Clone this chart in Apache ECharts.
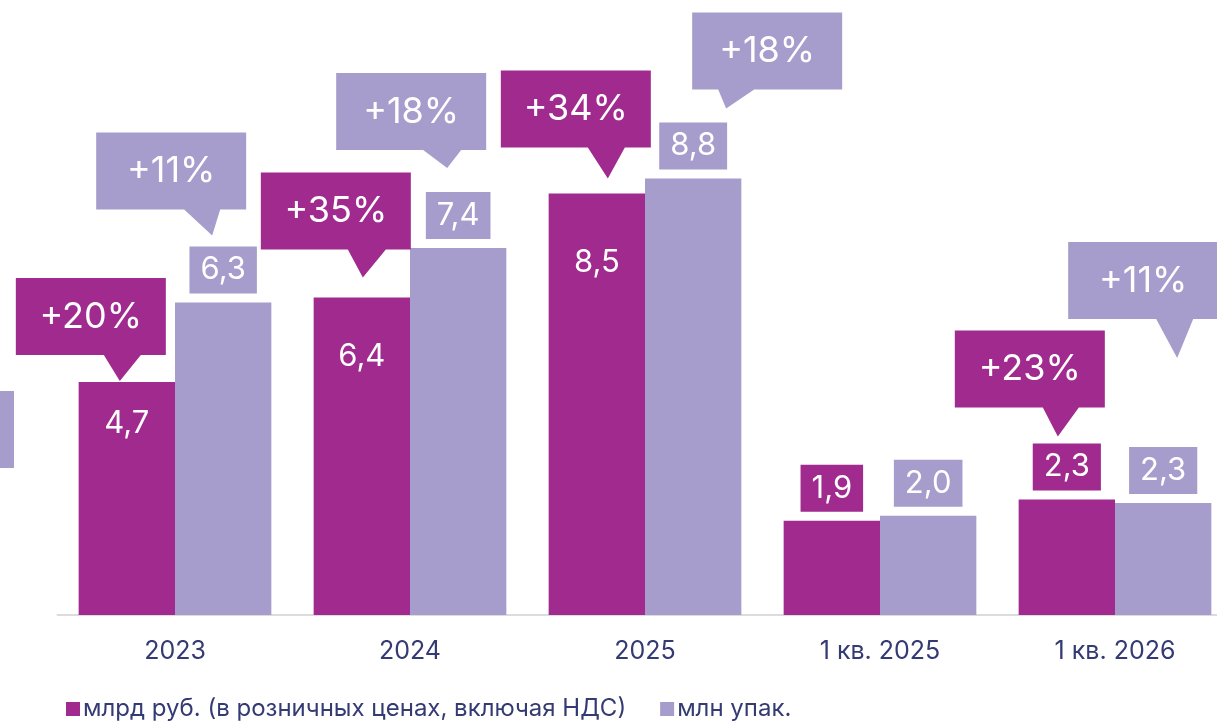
<!DOCTYPE html>
<html>
<head>
<meta charset="utf-8">
<script src="https://cdn.jsdelivr.net/npm/echarts@6/dist/echarts.min.js"></script>
<style>
  html, body { margin: 0; padding: 0; overflow: hidden; background: #fff; }
  #chart { width: 1240px; height: 721px; }
</style>
</head>
<body>
<div id="chart"></div>
<script>
// data
const categories = ["2023", "2024", "2025", "1 кв. 2025", "1 кв. 2026"];
const revenue = [4.7, 6.4, 8.5, 1.9, 2.33];   // млрд руб.
const packs = [6.3, 7.4, 8.8, 2.0, 2.26];     // млн упак.
const revenueGrowth = ["+20%", "+35%", "+34%", null, "+23%"];
const packsGrowth = ["+11%", "+18%", "+18%", null, "+11%"];

const MAGENTA = "#a02a8e";
const LAVENDER = "#a69dcc";
const NAVY = "#343a72";
const FONT = "Inter, 'Noto Sans', sans-serif";
const GAP = 0.18;

// how far the in-bar labels sit below the bar top
const insideDist = [26, 44, 54];

// callout placement relative to bar top-centre:
// [boxLeft, boxTop, pointerBaseL, pointerBaseR, tipX, tipY]
const revenueCallout = [
  [-111, -104, -23, 14, -7, -1],
  [-101, -125, -14, 24, 1, -20],
  [-96, -123, -9, 28, 11, -15],
  null,
  [-112, -169, -24, 12, -9, -63],
];
const packsCallout = [
  [-127, -170, -39, -3, -11, -67],
  [-122, -175, -35, 3, -11, -80],
  [-1, -166, 25, 61, 33, -70],
  null,
  [-95, -261, -7, 30, 14, -145],
];

const fmt = (v) => v.toFixed(1).replace(".", ",");

const insideLabel = (d) => ({
  show: true,
  position: "insideTop",
  distance: d,
  color: "#fff",
  fontSize: 31,
  fontFamily: FONT,
  formatter: (p) => fmt(p.value),
});
const boxLabel = (bg) => ({
  show: true,
  position: "top",
  distance: 9,
  color: "#fff",
  fontSize: 31,
  lineHeight: 33,
  fontFamily: FONT,
  backgroundColor: bg,
  padding: [7, 11],
  formatter: (p) => fmt(p.value),
});

function calloutSeries(values, texts, layout, color, side) {
  const data = [];
  values.forEach((v, i) => {
    if (texts[i]) data.push([i, v, i]);
  });
  return {
    type: "custom",
    z: 10,
    clip: false,
    silent: true,
    encode: { x: 0, y: 1 },
    data: data,
    renderItem: function (params, api) {
      const idx = api.value(2);
      const lay = layout[idx];
      const pt = api.coord([api.value(0), api.value(1)]);
      const band = api.size([1, 0])[0];
      const barW = (band * (1 - GAP)) / 2;
      const cx = pt[0] + (side * barW) / 2;
      const cy = pt[1];
      const L = cx + lay[0], T = cy + lay[1];
      const R = L + 150, B = T + 77;
      return {
        type: "group",
        children: [
          {
            type: "polygon",
            shape: {
              points: [
                [L, T], [R, T], [R, B],
                [cx + lay[3], B],
                [cx + lay[4], cy + lay[5]],
                [cx + lay[2], B],
                [L, B],
              ],
            },
            style: { fill: color },
          },
          {
            type: "text",
            x: L + 75,
            y: T + 39,
            style: {
              text: texts[idx],
              fill: "#fff",
              fontSize: 36,
              fontFamily: FONT,
              align: "center",
              verticalAlign: "middle",
            },
          },
        ],
      };
    },
  };
}

const chart = echarts.init(document.getElementById("chart"), null, { renderer: "canvas" });

const option = {
  animation: false,
  backgroundColor: "#fff",
  grid: { left: 57.5, right: 7.5, top: 19.8, bottom: 106 },
  legend: {
    left: 61,
    top: 692,
    icon: "rect",
    itemWidth: 14,
    itemHeight: 14,
    itemGap: 34,
    textStyle: { color: NAVY, fontSize: 24, fontFamily: FONT, padding: [0, 0, 0, -2] },
    data: ["млрд руб. (в розничных ценах, включая НДС)", "млн упак."],
  },
  xAxis: {
    type: "category",
    data: categories,
    axisTick: { show: false },
    axisLine: { lineStyle: { color: "#dcdcdc", width: 2 } },
    axisLabel: { color: NAVY, fontSize: 25, fontFamily: FONT, margin: 24 },
  },
  yAxis: {
    type: "value",
    min: 0,
    max: 12,
    show: false,
    splitLine: { show: false },
  },
  series: [
    {
      name: "млрд руб. (в розничных ценах, включая НДС)",
      type: "bar",
      barGap: "0%",
      barCategoryGap: GAP * 100 + "%",
      itemStyle: { color: MAGENTA },
      data: revenue.map((v, i) => ({
        value: v,
        label: i < 3 ? insideLabel(insideDist[i]) : boxLabel(MAGENTA),
      })),
    },
    {
      name: "млн упак.",
      type: "bar",
      barGap: "0%",
      barCategoryGap: GAP * 100 + "%",
      itemStyle: { color: LAVENDER },
      label: boxLabel(LAVENDER),
      data: packs,
    },
    calloutSeries(revenue, revenueGrowth, revenueCallout, MAGENTA, -1),
    calloutSeries(packs, packsGrowth, packsCallout, LAVENDER, 1),
  ],
  graphic: [
    // cut-off callout fragment at the left edge
    { type: "rect", shape: { x: 0, y: 391, width: 14, height: 77 }, style: { fill: LAVENDER } },
  ],
};

chart.setOption(option);
</script>
</body>
</html>
